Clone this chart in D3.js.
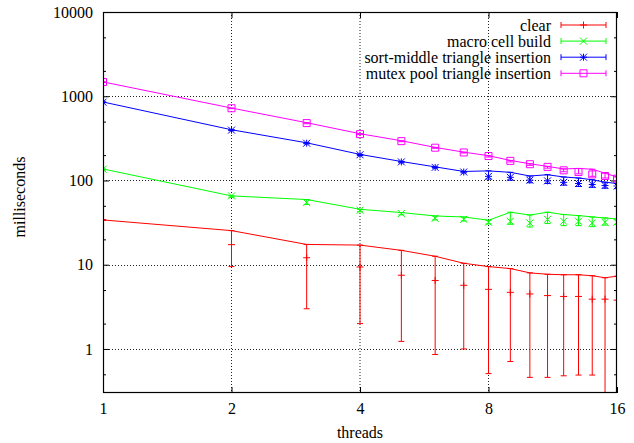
<!DOCTYPE html>
<html>
<head>
<meta charset="utf-8">
<script src="https://cdn.jsdelivr.net/npm/d3@7"></script>
<style>
  body { margin: 0; background: #fff; }
  svg text { font-family: "Liberation Serif", "Times New Roman", serif; font-size: 16px; fill: #000; }
</style>
</head>
<body>
<div id="plot"></div>
<script>
// values (ms)
var threads = [1, 2, 3, 4, 5, 6, 7, 8, 9, 10, 11, 12, 13, 14, 15, 16];

var clearTop  = [34, 25.4, 17.4, 17.1, 14.8, 12.6, 10.4, 9.5, 9.0, 8.0, 7.7, 7.6, 7.6, 7.4, 7.0, 7.3];
var clearMean = [34, 17.3, 12.1, 9.4, 7.5, 6.5, 5.7, 5.1, 4.7, 4.5, 4.3, 4.2, 4.2, 3.9, 3.9, 3.8];
var clearLow  = [34, 9.5, 3.0, 2.0, 1.23, 0.86, 1.0, 0.51, 0.71, 0.46, 0.46, 0.48, 0.49, 0.49, 0.2, 0.2];

var macroTop  = [137, 65.6, 59.4, 45.5, 41.6, 37.9, 36.9, 33.7, 42.0, 38.9, 42.0, 39.4, 38.3, 36.9, 35.9, 34.9];
var macroMean = [136, 65.6, 54.7, 44.3, 40.5, 35.6, 34.6, 31.9, 32.8, 31.3, 34.6, 32.8, 32.8, 31.3, 31.9, 31.9];
var macroLow  = [133, 63, 52, 42.5, 39, 34, 33, 30.5, 30.2, 28.0, 30.8, 29.1, 29.1, 28.3, 29.5, 30.2];

var sortTop  = [855, 400, 280, 204, 168, 145, 128, 130, 125, 113, 117, 110, 107, 102, 95.5, 92];
var sortMean = [850, 396, 277, 202, 166, 143, 126, 112, 109, 101, 99, 95, 92, 89.6, 87, 86];
var sortLow  = [840, 390, 272, 198, 162, 140, 123, 104, 101, 94, 92, 88, 85, 83, 81, 80];

var mutexTop  = [1480, 724, 485, 359, 296, 247, 217, 197, 173, 158, 147, 137, 139, 136, 122, 110];
var mutexMean = [1475, 720, 480, 355, 293, 245, 215, 195, 171, 156, 145, 132, 126, 118, 113, 105];
var mutexLow  = [1460, 712, 472, 350, 289, 241, 212, 190, 166, 151, 140, 127, 120, 112, 107, 100];

var seriesNames = ["clear", "macro cell build", "sort-middle triangle insertion", "mutex pool triangle insertion"];

var xTicks = [1, 2, 4, 8, 16];
var yTicks = [1, 10, 100, 1000, 10000];
var yMinorTicks = [0.5, 2, 5, 20, 50, 200, 500, 2000, 5000];

var series = [
  { name: seriesNames[0], color: "#ff0000", mark: "plus",   top: clearTop, mean: clearMean, low: clearLow },
  { name: seriesNames[1], color: "#00ff00", mark: "cross",  top: macroTop, mean: macroMean, low: macroLow },
  { name: seriesNames[2], color: "#0000ff", mark: "star",   top: sortTop,  mean: sortMean,  low: sortLow },
  { name: seriesNames[3], color: "#ff00ff", mark: "square", top: mutexTop, mean: mutexMean, low: mutexLow }
];

var W = 634, H = 443;
var plotLeft = 103, plotRight = 617, plotTop = 12, plotBottom = 393;

var svg = d3.select("#plot").append("svg")
  .attr("width", W)
  .attr("height", H);

var x = d3.scaleLog().base(2).domain([1, 16]).range([plotLeft, plotRight]);
var y = d3.scaleLog().domain([0.3, 10000]).range([plotBottom, plotTop]);

function markPath(type, s) {
  if (type == "plus") return "M" + (-s) + ",0H" + s + "M0," + (-s) + "V" + s;
  if (type == "cross") return "M" + (-s) + "," + (-s) + "L" + s + "," + s + "M" + (-s) + "," + s + "L" + s + "," + (-s);
  if (type == "star") return markPath("plus", s) + markPath("cross", s);
  return "M" + (-s) + "," + (-s) + "H" + s + "V" + s + "H" + (-s) + "Z";
}

svg.append("clipPath").attr("id", "clip")
  .append("rect")
  .attr("x", plotLeft).attr("y", plotTop)
  .attr("width", plotRight - plotLeft).attr("height", plotBottom - plotTop);

// grid
var grid = svg.append("g").attr("stroke", "#222").attr("stroke-width", 1).attr("stroke-dasharray", "1,2");
grid.selectAll("line.gx")
  .data(xTicks.filter(function (d) { return d > 1 && d < 16; }))
  .enter().append("line")
  .attr("x1", function (d) { return x(d); })
  .attr("x2", function (d) { return x(d); })
  .attr("y1", plotTop).attr("y2", plotBottom);
grid.selectAll("line.gy")
  .data(yTicks.filter(function (d) { return d < 10000; }))
  .enter().append("line")
  .attr("y1", function (d) { return Math.round(y(d)) + 0.5; })
  .attr("y2", function (d) { return Math.round(y(d)) + 0.5; })
  .attr("x1", plotLeft).attr("x2", plotRight);

// axes
function styleAxis(g) {
  g.select(".domain").remove();
  g.selectAll(".tick line").attr("stroke", "#000");
  g.selectAll(".tick text").attr("font-family", null).attr("font-size", null);
}

svg.append("g")
  .attr("transform", "translate(" + plotLeft + ",0)")
  .call(d3.axisLeft(y).tickValues(yTicks).tickSize(-6).tickPadding(10).tickFormat(d3.format("d")))
  .call(styleAxis);
svg.append("g")
  .attr("transform", "translate(" + plotLeft + ",0)")
  .call(d3.axisLeft(y).tickValues(yMinorTicks).tickSize(-3).tickFormat(""))
  .call(styleAxis);
svg.append("g")
  .attr("transform", "translate(" + plotRight + ",0)")
  .call(d3.axisRight(y).tickValues(yTicks).tickSize(-6).tickFormat(""))
  .call(styleAxis);
svg.append("g")
  .attr("transform", "translate(" + plotRight + ",0)")
  .call(d3.axisRight(y).tickValues(yMinorTicks).tickSize(-3).tickFormat(""))
  .call(styleAxis);
svg.append("g")
  .attr("transform", "translate(0," + plotBottom + ")")
  .call(d3.axisBottom(x).tickValues(xTicks).tickSize(-6).tickPadding(10).tickFormat(d3.format("d")))
  .call(styleAxis);
svg.append("g")
  .attr("transform", "translate(0," + plotTop + ")")
  .call(d3.axisTop(x).tickValues(xTicks).tickSize(-6).tickFormat(""))
  .call(styleAxis);

// data
var plot = svg.append("g").attr("clip-path", "url(#clip)");

series.forEach(function (s) {
  var g = plot.append("g").attr("stroke", s.color).attr("fill", "none").attr("stroke-width", 1);

  var line = d3.line()
    .x(function (d, i) { return x(threads[i]); })
    .y(function (d) { return y(d); });
  g.append("path").attr("d", line(s.top));

  threads.forEach(function (t, i) {
    var cx = x(t);
    g.append("line")
      .attr("x1", cx).attr("x2", cx)
      .attr("y1", y(s.top[i])).attr("y2", y(s.low[i]));
    [s.top[i], s.low[i]].forEach(function (v) {
      g.append("line")
        .attr("x1", cx - 3).attr("x2", cx + 3)
        .attr("y1", y(v)).attr("y2", y(v));
    });
    g.append("path")
      .attr("transform", "translate(" + cx + "," + y(s.mean[i]) + ")")
      .attr("d", markPath(s.mark, 3.5));
  });
});

// frame
svg.append("rect")
  .attr("x", plotLeft + 0.5).attr("y", plotTop + 0.5)
  .attr("width", plotRight - plotLeft - 1).attr("height", plotBottom - plotTop - 1)
  .attr("fill", "none").attr("stroke", "#000").attr("stroke-width", 1.2);

// legend
var legend = svg.append("g");
series.forEach(function (s, i) {
  var ly = 25 + i * 16.1;
  legend.append("text")
    .attr("x", 551).attr("y", ly)
    .attr("dy", "0.35em")
    .attr("text-anchor", "end")
    .text(s.name);
  var lg = legend.append("g").attr("stroke", s.color).attr("fill", "none");
  lg.append("line").attr("x1", 561).attr("x2", 606).attr("y1", ly).attr("y2", ly);
  lg.append("line").attr("x1", 561).attr("x2", 561).attr("y1", ly - 3).attr("y2", ly + 3);
  lg.append("line").attr("x1", 606).attr("x2", 606).attr("y1", ly - 3).attr("y2", ly + 3);
  lg.append("path").attr("transform", "translate(583.5," + ly + ")").attr("d", markPath(s.mark, 3.5));
});

// axis titles
svg.append("text")
  .attr("x", 360).attr("y", 432)
  .attr("dy", "0.35em")
  .attr("text-anchor", "middle")
  .text("threads");
svg.append("text")
  .attr("transform", "translate(19,197) rotate(-90)")
  .attr("dy", "0.35em")
  .attr("text-anchor", "middle")
  .text("milliseconds");
</script>
</body>
</html>
